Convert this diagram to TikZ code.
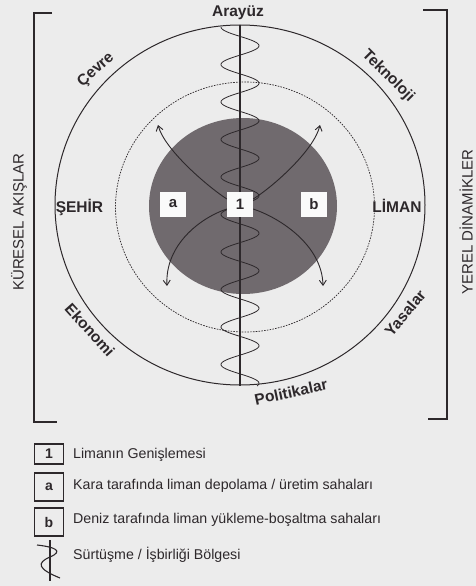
\documentclass[tikz,border=0pt]{standalone}
\usepackage{fontspec}
\setmainfont{Liberation Sans}
\usetikzlibrary{arrows.meta}
\definecolor{ink}{RGB}{45,40,43}
\definecolor{paper}{RGB}{236,236,236}
\definecolor{discgray}{RGB}{112,106,110}
\begin{document}
\begin{tikzpicture}[x=1pt,y=-1pt,
  lbl/.style={font=\fontsize{15.5}{17}\selectfont\bfseries, text=ink, inner sep=0pt},
  vlbl/.style={font=\fontsize{15}{16}\selectfont, text=ink, inner sep=0pt, rotate=90},
  leg/.style={font=\fontsize{14.2}{16}\selectfont, text=ink, anchor=west, inner sep=0pt},
  cbox/.style={fill=white!75!paper, minimum width=26pt, minimum height=25pt, inner sep=0pt, font=\fontsize{15}{16}\selectfont\bfseries, text=ink},
  lbox/.style={draw=ink, line width=1.8pt, minimum width=29pt, inner sep=0pt, font=\fontsize{14}{16}\selectfont\bfseries, text=ink},
  flow/.style={draw=ink, line width=0.9pt, -{Straight Barb[length=5pt,width=7pt]}},
  brack/.style={draw=ink, line width=1.1pt},
]
\useasboundingbox (0,0) rectangle (476,586);
\fill[paper] (0,0) rectangle (476,586);

% disc and circles
\fill[discgray] (243,206) ellipse [x radius=94, y radius=88];
\draw[ink, line width=0.7pt, dash pattern=on 1.6pt off 1.2pt] (245,207) ellipse [x radius=129.5, y radius=125];
\draw[ink, line width=1pt] (240,205) ellipse [x radius=185, y radius=180];

% brackets
\coordinate (lbt) at (52,13); \coordinate (lbb) at (57,422);
\draw[brack] (lbt) -- (34,13) -- (34,422) -- (lbb);
\coordinate (rbt) at (423,10); \coordinate (rbb) at (428,419);
\draw[brack] (rbt) -- (447,10) -- (447,419) -- (rbb);

% wave and interface line
\draw[ink, line width=0.8pt] plot[domain=27:386, samples=400, smooth] ({240-19*cos(9.6*(\x-27))},\x);
\coordinate (itop) at (240,25);
\coordinate (ibot) at (240,386);
\draw[ink, line width=2.5pt] (itop) -- (ibot);

% boxes
\node[cbox] (c1) at (240,204) {1};
\node[cbox] (ca) at (173,204) {a};
\node[cbox] (cb) at (314,204) {b};

% flows
\coordinate (tl) at (158,125);
\coordinate (bl) at (167,286);
\coordinate (tr) at (320,125);
\coordinate (br) at (323,286);
\draw[flow] ([yshift=5pt]c1.west) .. controls (207,186) and (165,150) .. (tl);
\draw[flow] ([yshift=-5pt]c1.west) .. controls (200,218) and (165,245) .. (bl);
\draw[flow] ([yshift=5pt]c1.east) .. controls (274,186) and (314,150) .. (tr);
\draw[flow] ([yshift=-5pt]c1.east) .. controls (280,218) and (322,245) .. (br);

% labels
\node[lbl] (arayuz) at (238,12.5) {Arayüz};
\node[lbl, rotate=42] (cevre) at (96,70) {Çevre};
\node[lbl, rotate=-45] (tekno) at (388,76) {Teknoloji};
\node[lbl] (sehir) at (79.5,207.5) {ŞEHİR};
\node[lbl] (liman) at (397,206) {LİMAN};
\node[lbl, rotate=-48] (ekon) at (90,330) {Ekonomi};
\node[lbl, rotate=50] (yasa) at (405,313) {Yasalar};
\node[lbl, rotate=12] (poli) at (291,392) {Politikalar};
\node[vlbl] (kures) at (19,222) {KÜRESEL AKIŞLAR};
\node[vlbl] (yerel) at (466,222) {YEREL DİNAMİKLER};

% legend
\node[lbox, minimum height=20pt] (k1) at (49,454) {1};
\node[leg] (t1) at (73,455) {Limanın Genişlemesi};
\node[lbox, minimum height=28pt] (ka) at (49,487) {a};
\node[leg] (ta) at (73,486) {Kara tarafında liman depolama / üretim sahaları};
\node[lbox, minimum height=28pt] (kb) at (49,522) {b};
\node[leg] (tb) at (73,520) {Deniz tarafında liman yükleme-boşaltma sahaları};
\coordinate (ft) at (50,540);
\coordinate (fb) at (50,581);
\draw[ink, line width=1.6pt] (ft) -- (fb);
\draw[ink, line width=1.1pt] (37,545) .. controls (55,547) and (64,551) .. (50,557) .. controls (36,563) and (38,569) .. (60,578);
\node[leg] (tf) at (73,555) {Sürtüşme / İşbirliği Bölgesi};
\end{tikzpicture}
\end{document}
